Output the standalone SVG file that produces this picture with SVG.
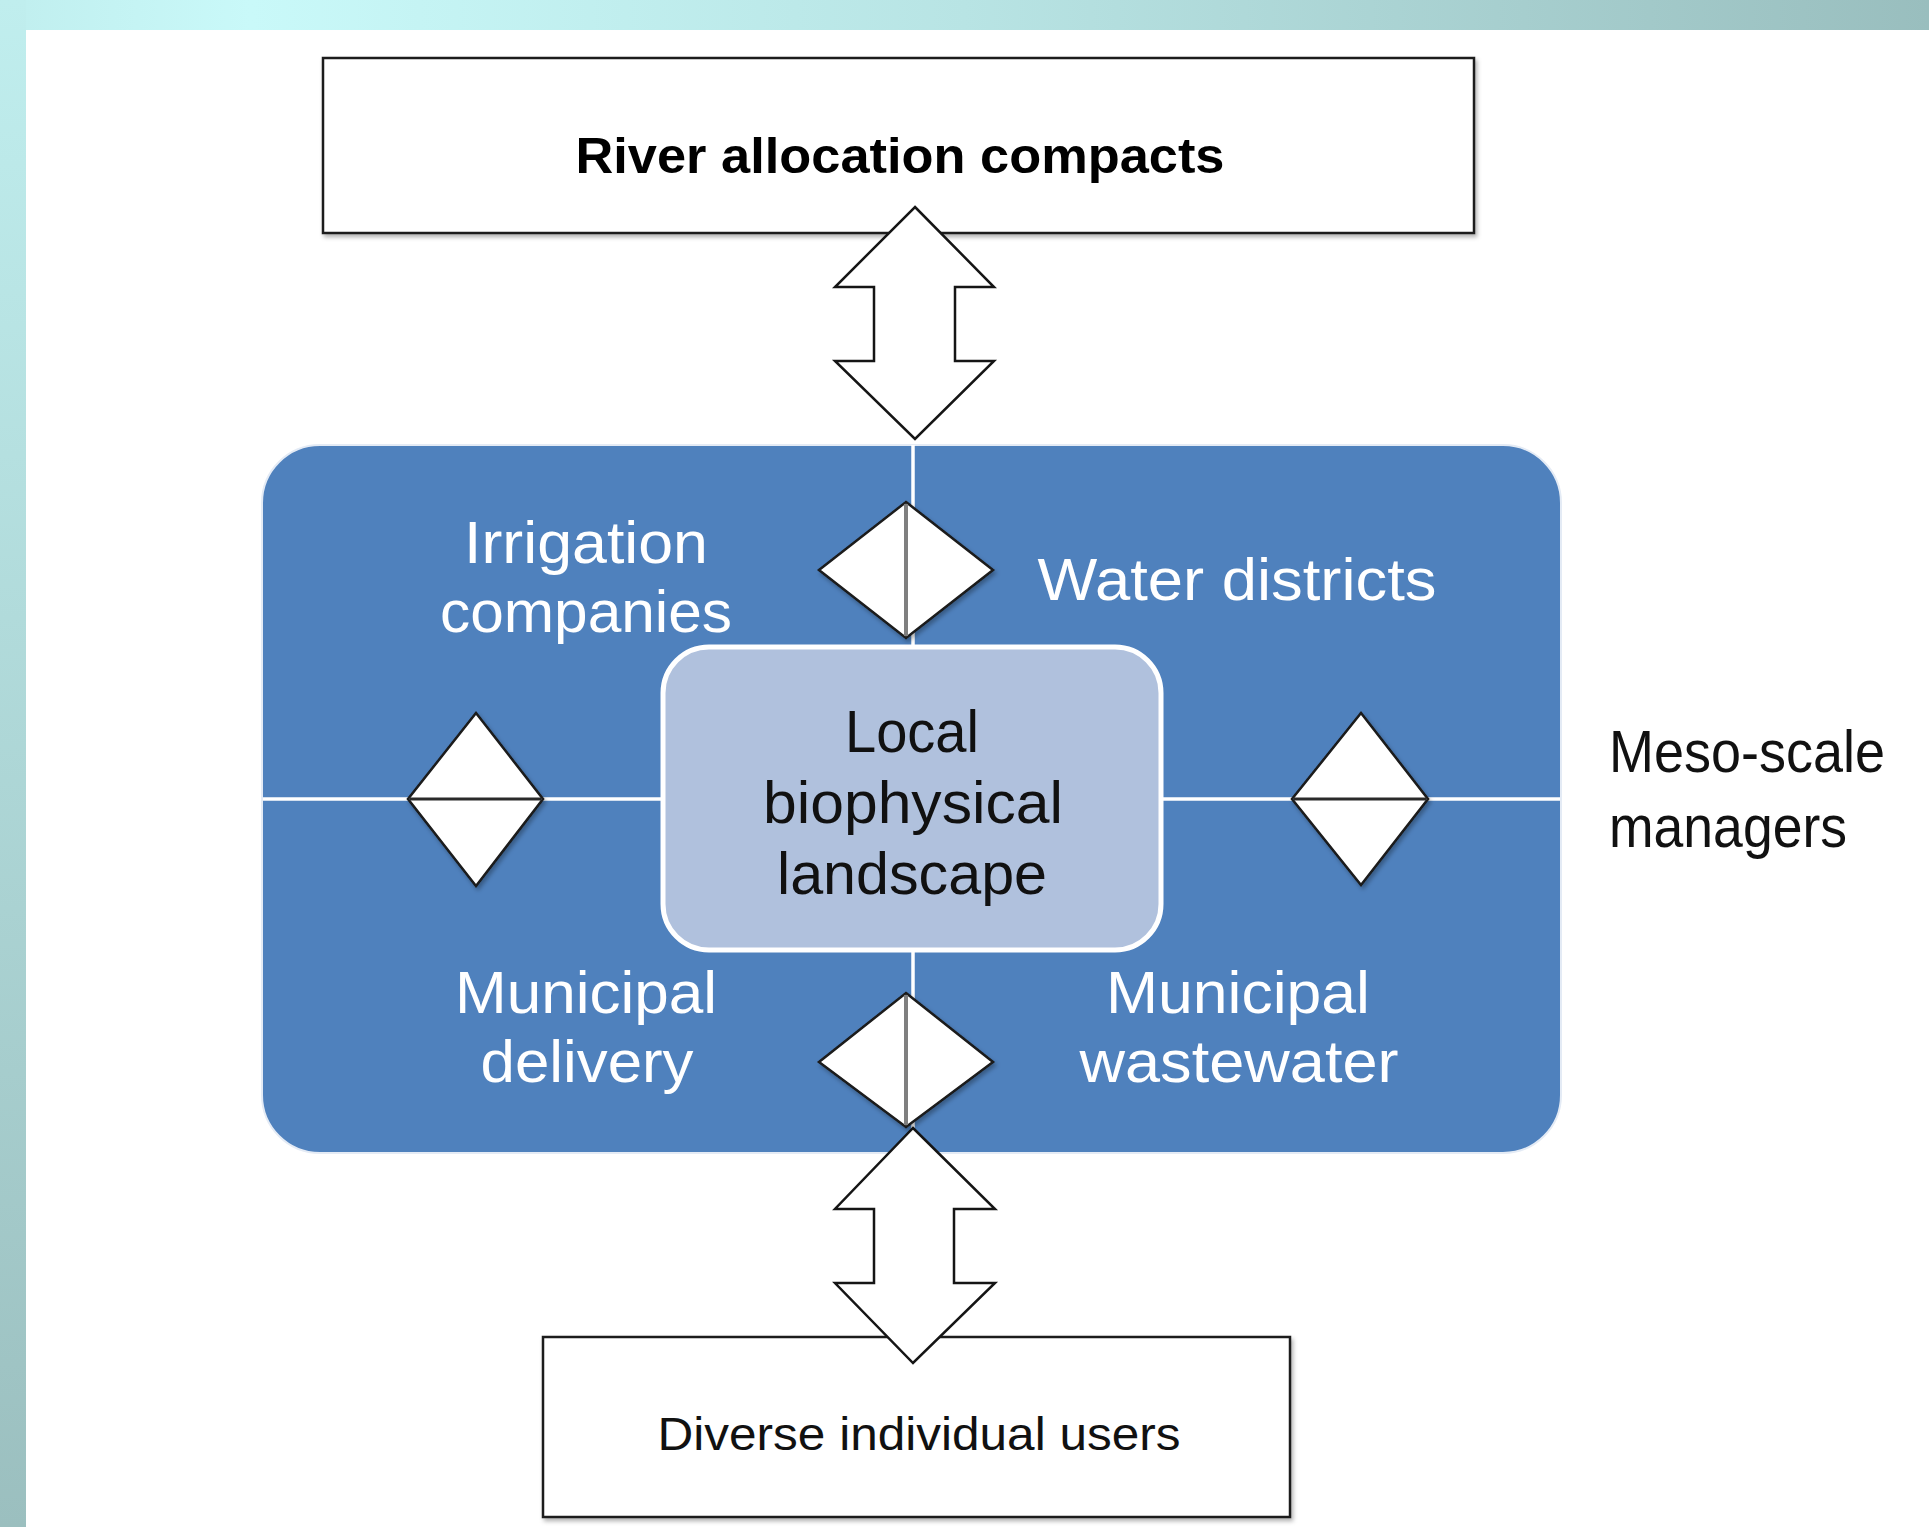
<svg xmlns="http://www.w3.org/2000/svg" width="1929" height="1527" viewBox="0 0 1929 1527">
  <defs>
    <linearGradient id="topband" x1="0" y1="0" x2="1" y2="0">
      <stop offset="0" stop-color="#c0eeee"/>
      <stop offset="0.13" stop-color="#c9f9f9"/>
      <stop offset="0.5" stop-color="#b8e4e4"/>
      <stop offset="1" stop-color="#99bebe"/>
    </linearGradient>
    <linearGradient id="leftband" x1="0" y1="0" x2="0" y2="1">
      <stop offset="0" stop-color="#c0eeee"/>
      <stop offset="1" stop-color="#9bbfbf"/>
    </linearGradient>
    <filter id="shadow" x="-10%" y="-10%" width="130%" height="130%">
      <feDropShadow dx="2" dy="3" stdDeviation="2" flood-color="#000" flood-opacity="0.3"/>
    </filter>
    <style>
      .box { fill: #ffffff; stroke: #1e1e1e; stroke-width: 2.5; }
      .arrow { fill: #ffffff; stroke: #151515; stroke-width: 2.5; stroke-linejoin: miter; }
      .diamond { fill: #ffffff; stroke: #1a1a1a; stroke-width: 2.5; }
      .vaxis { stroke: #7f7f7f; stroke-width: 4; }
      .haxis { stroke: #2a2a2a; stroke-width: 3; }
      .wline { stroke: #ffffff; stroke-width: 3.5; }
      .t { font-family: "Liberation Sans", Arial, sans-serif; }
      .wt { font-family: "Liberation Sans", Arial, sans-serif; fill: #ffffff; font-size: 60px; }
      .bt { font-family: "Liberation Sans", Arial, sans-serif; fill: #111111; font-size: 60px; }
    </style>
  </defs>

  <!-- background -->
  <rect x="0" y="0" width="1929" height="1527" fill="#ffffff"/>
  <rect x="0" y="0" width="1929" height="30" fill="url(#topband)"/>
  <rect x="0" y="0" width="26" height="1527" fill="url(#leftband)"/>

  <!-- blue container -->
  <g id="meso-panel">
    <rect x="262" y="445" width="1299" height="708" rx="58" ry="58" fill="#4f81bd" stroke="#e4ebf5" stroke-width="2"/>
  </g>

  <!-- connectors -->
  <g id="connectors">
    <line class="wline" x1="913" y1="445" x2="913" y2="1153"/>
    <line class="wline" x1="263" y1="799" x2="1560" y2="799"/>
  </g>

  <g id="top-box" filter="url(#shadow)">
    <rect class="box" x="323" y="58" width="1151" height="175"/>
  </g>
  <text class="t" x="900" y="173" text-anchor="middle" font-size="50" font-weight="bold" fill="#000" textLength="649" lengthAdjust="spacingAndGlyphs">River allocation compacts</text>

  <g id="bottom-box" filter="url(#shadow)">
    <rect class="box" x="543" y="1337" width="747" height="180"/>
  </g>
  <text class="t" x="919" y="1450" text-anchor="middle" font-size="46" fill="#111" textLength="523" lengthAdjust="spacingAndGlyphs">Diverse individual users</text>

  <!-- double arrows -->
  <g id="arrow-top">
    <polygon class="arrow" points="915,207 994,287 955,287 955,361 994,361 915,439 835,361 874,361 874,287 835,287"/>
  </g>
  <g id="arrow-bottom">
    <polygon class="arrow" points="913,1128 995,1209 954,1209 954,1283 995,1283 913,1363 835,1283 874,1283 874,1209 835,1209"/>
  </g>

  <!-- center box -->
  <g id="local-landscape">
    <rect x="663" y="647" width="498" height="303" rx="46" ry="46" fill="#b0c1dd" stroke="#ffffff" stroke-width="5"/>
    <text class="bt" x="912" y="752" text-anchor="middle" textLength="134" lengthAdjust="spacingAndGlyphs">Local</text>
    <text class="bt" x="913" y="823" text-anchor="middle" textLength="300" lengthAdjust="spacingAndGlyphs">biophysical</text>
    <text class="bt" x="912" y="894" text-anchor="middle" textLength="270" lengthAdjust="spacingAndGlyphs">landscape</text>
  </g>

  <!-- diamonds -->
  <g id="diamond-top" filter="url(#shadow)">
    <polygon class="diamond" points="906,502 993,570 906,638 819,570"/>
    <line class="vaxis" x1="906" y1="504" x2="906" y2="636"/>
  </g>
  <g id="diamond-bottom" filter="url(#shadow)">
    <polygon class="diamond" points="906,993 993,1062 906,1127 819,1062"/>
    <line class="vaxis" x1="906" y1="995" x2="906" y2="1125"/>
  </g>
  <g id="diamond-left" filter="url(#shadow)">
    <polygon class="diamond" points="476,713 543,799 476,886 408,799"/>
    <line class="haxis" x1="410" y1="799" x2="541" y2="799"/>
  </g>
  <g id="diamond-right" filter="url(#shadow)">
    <polygon class="diamond" points="1361,713 1428,799 1361,885 1292,799"/>
    <line class="haxis" x1="1294" y1="799" x2="1426" y2="799"/>
  </g>

  <!-- quadrant labels -->
  <g id="irrigation-companies">
    <text class="wt" x="586" y="563" text-anchor="middle" textLength="244" lengthAdjust="spacingAndGlyphs">Irrigation</text>
    <text class="wt" x="586" y="632" text-anchor="middle" textLength="292" lengthAdjust="spacingAndGlyphs">companies</text>
  </g>
  <g id="water-districts">
    <text class="wt" x="1237" y="600" text-anchor="middle" textLength="399" lengthAdjust="spacingAndGlyphs">Water districts</text>
  </g>
  <g id="municipal-delivery">
    <text class="wt" x="586" y="1013" text-anchor="middle" textLength="262" lengthAdjust="spacingAndGlyphs">Municipal</text>
    <text class="wt" x="587" y="1082" text-anchor="middle" textLength="213" lengthAdjust="spacingAndGlyphs">delivery</text>
  </g>
  <g id="municipal-wastewater">
    <text class="wt" x="1238" y="1013" text-anchor="middle" textLength="264" lengthAdjust="spacingAndGlyphs">Municipal</text>
    <text class="wt" x="1239" y="1082" text-anchor="middle" textLength="319" lengthAdjust="spacingAndGlyphs">wastewater</text>
  </g>

  <g id="meso-scale-managers">
    <text class="bt" x="1609" y="772" textLength="276" lengthAdjust="spacingAndGlyphs">Meso-scale</text>
    <text class="bt" x="1609" y="847" textLength="238" lengthAdjust="spacingAndGlyphs">managers</text>
  </g>
</svg>
